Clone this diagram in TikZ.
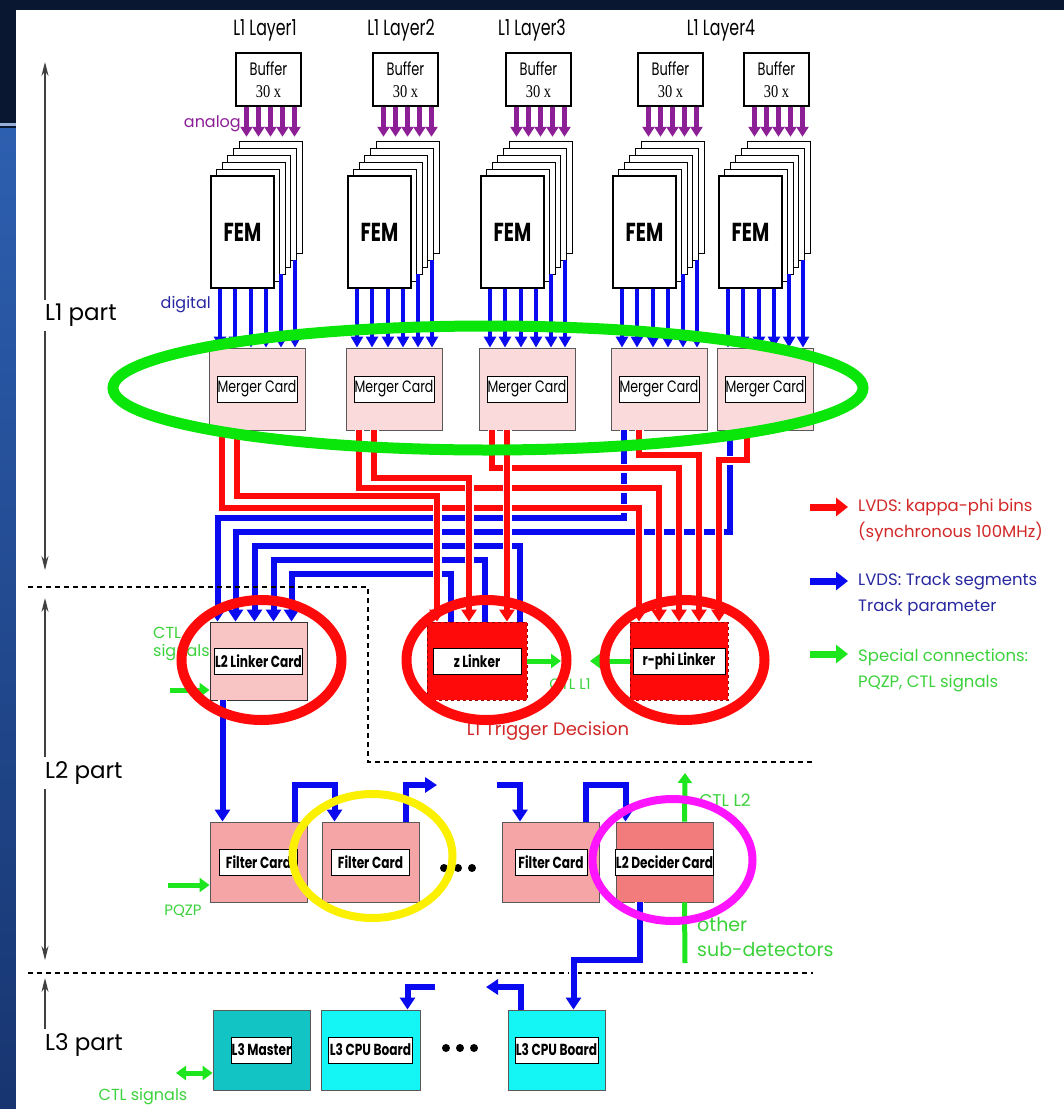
\documentclass[tikz,border=0pt]{standalone}
\usepackage{fontspec}
\setmainfont{Poppins}
\newfontfamily\narrowfont[FakeStretch=0.72]{Poppins}
\newfontfamily\tagfont[FakeStretch=0.76]{Poppins}
\newfontfamily\narrowserif[FakeStretch=0.8]{Liberation Serif}
\usetikzlibrary{arrows.meta}
\newcommand{\fsz}[2]{\fontsize{#1}{#2}\selectfont}
\definecolor{Navy}{HTML}{0A1730}
\definecolor{StripTop}{HTML}{2D5FB0}
\definecolor{StripBot}{HTML}{173570}
\definecolor{WireRed}{HTML}{FF0A0A}
\definecolor{WireBlue}{HTML}{0A0AF0}
\definecolor{SigGreen}{HTML}{1EE61E}
\definecolor{TextGreen}{HTML}{3CD23C}
\definecolor{Analog}{HTML}{8C1E96}
\definecolor{MergerPink}{HTML}{FADADA}
\definecolor{LinkerPink}{HTML}{F8C4C4}
\definecolor{FilterPink}{HTML}{F5A5A5}
\definecolor{DeciderPink}{HTML}{F27C7C}
\definecolor{MasterTeal}{HTML}{12C4C4}
\definecolor{CpuCyan}{HTML}{14F5F5}
\definecolor{LegRed}{HTML}{D22828}
\definecolor{LegBlue}{HTML}{2828A0}
\definecolor{RingGreen}{HTML}{0AE60A}
\definecolor{RingYellow}{HTML}{FAF000}
\definecolor{RingMagenta}{HTML}{FF14FF}
\tikzset{
  layer label/.style={font=\narrowfont\fsz{22}{24},inner sep=0pt},
  buffer box/.style={draw,line width=1.5pt,fill=white,minimum width=65pt,
    minimum height=53pt,inner sep=0pt,align=center,font=\narrowfont\fsz{18}{22}},
  fem box/.style={draw,line width=1.5pt,fill=white,minimum width=63pt,
    minimum height=112pt,inner sep=0pt,font=\narrowfont\bfseries\fsz{26}{28}},
  fem back/.style={draw,line width=0.9pt,fill=white},
  card/.style={draw=black!65,line width=0.9pt,minimum width=97pt,
    minimum height=80pt,inner sep=0pt},
  card tag/.style={draw,line width=1pt,fill=white,minimum height=26pt,
    inner sep=0pt,font=\tagfont\bfseries\fsz{16}{18}},
  analog arrow/.style={draw=Analog,line width=5pt,-{Triangle[width=12pt,length=10pt]}},
  digital arrow/.style={draw=WireBlue,line width=4.5pt,-{Triangle[width=12pt,length=11pt]}},
  wire/.style={line width=6pt,preaction={draw=white,line width=9pt},
    -{Triangle[width=15pt,length=12pt]}},
  red wire/.style={wire,draw=WireRed},
  blue wire/.style={wire,draw=WireBlue},
  green arrow/.style={draw=SigGreen,line width=5pt,-{Triangle[width=14pt,length=10pt]}},
  legend arrow/.style={line width=7pt,-{Triangle[width=18pt,length=12pt]}},
  legend text/.style={font=\fsz{16.5}{26},align=left,inner sep=0pt,anchor=west},
  green text/.style={text=TextGreen,inner sep=0pt},
  part text/.style={font=\fsz{23}{24},inner sep=4pt,anchor=west},
  part arrow/.style={draw=black!75,line width=1.2pt,-{Stealth[width=7pt,length=14pt]}},
  section line/.style={draw=black,line width=1.6pt,dash pattern=on 5pt off 4pt},
  ring/.style={line width=10pt}
}
\begin{document}
\begin{tikzpicture}[x=1pt,y=-1pt]
\useasboundingbox (0,0) rectangle (1064,1109);
% background
\fill[Navy] (0,0) rectangle (1064,1109);
\shade[top color=StripTop,bottom color=StripBot] (0,128) rectangle (16,1109);
\fill[StripTop!50!white] (0,123) rectangle (16,126);
\fill[white] (16,10) rectangle (1064,1109);

% L1 layers
\node[layer label] (lay1) at (265,30) {L1 Layer1};
\node[layer label] (lay2) at (401,30) {L1 Layer2};
\node[layer label] (lay3) at (532,30) {L1 Layer3};
\node[layer label] (lay4) at (721,30) {L1 Layer4};

\foreach \i/\x in {1/211,2/348,3/481,4/613,5/719}{
  \foreach \k in {5,...,1}
    \draw[fem back] (\x+5.6*\k,176-7*\k) rectangle ++(63,112);
  \node[fem box] (fem\i) at (\x+31.5,232) {FEM};
  \node[buffer box] (buf\i) at (\x+57.5,79.5) {Buffer\\{\narrowserif 30 x}};
  \node[card,fill=MergerPink,minimum width=96pt,minimum height=82pt] (m\i) at (\x+46,389) {};
  \node[card tag,minimum width=80pt,font=\tagfont\fsz{16.5}{18}] (mt\i) at (m\i) {Merger Card};
  \foreach \a in {-22,-10,2,14,26}
    \draw[analog arrow] ([xshift=\a]buf\i.south) -- ++(0,30);
  \foreach \d in {-22.5,-7.5,8.5,23.5}
    \draw[digital arrow] ([xshift=\d]fem\i.south) -- ([xshift=\d]fem\i.south |- m\i.north);
  \coordinate (bka\i) at (\x+70,274);
  \coordinate (bkb\i) at (\x+84,260);
  \draw[digital arrow] (bka\i) -- (bka\i |- m\i.north);
  \draw[digital arrow] (bkb\i) -- (bkb\i |- m\i.north);
}
\node[text=Analog,font=\fsz{16}{16},inner sep=0pt,anchor=east] (analog) at (241,124) {analog};
\node[text=LegBlue,font=\fsz{16}{16},inner sep=0pt,anchor=east] (digital) at (211,305) {digital};

% L2 linkers
\node[card,fill=LinkerPink,draw=black!80,minimum height=78pt] (l2link) at (258.5,661) {};
\node[card tag,minimum width=88pt] (l2linkt) at (l2link) {L2 Linker Card};
\node[card,fill=WireRed,draw=red!60!black,dashed,minimum width=100pt,minimum height=78pt] (zlink) at (477,661) {};
\node[card tag,minimum width=88pt] (zlinkt) at (zlink) {z Linker};
\node[card,fill=WireRed,draw=red!60!black,dashed,minimum width=98pt,minimum height=78pt] (rphi) at (679,661) {};
\node[card tag,minimum width=92pt] (rphit) at (rphi) {r-phi Linker};

% blue links to the L2 linker card
\draw[blue wire] ([xshift=-35pt]m4.south) -- ++(0,88) -| ([xshift=-41pt]l2link.north);
\draw[blue wire] ([xshift=-35pt]m5.south) -- ++(0,102) -| ([xshift=-23pt]l2link.north);
\draw[blue wire] ([xshift=43pt]zlink.north) -- ++(0,-76) -| ([xshift=-4pt]l2link.north);
\draw[blue wire] ([xshift=8pt]zlink.north) -- ++(0,-62) -| ([xshift=15pt]l2link.north);
\draw[blue wire] ([xshift=-26pt]zlink.north) -- ++(0,-48) -| ([xshift=33pt]l2link.north);
% red kappa-phi bins
\draw[red wire] ([xshift=-35pt]m1.south) -- ++(0,78) -| ([xshift=-40pt]rphi.north);
\draw[red wire] ([xshift=-20pt]m1.south) -- ++(0,66) -| ([xshift=-40pt]zlink.north);
\draw[red wire] ([xshift=-35pt]m2.south) -- ++(0,58) -| ([xshift=-20pt]rphi.north);
\draw[red wire] ([xshift=-20pt]m2.south) -- ++(0,48) -| ([xshift=-8pt]zlink.north);
\draw[red wire] ([xshift=-35pt]m3.south) -- ++(0,38) -| (rphi.north);
\draw[red wire] ([xshift=-20pt]m3.south) -- ([xshift=30pt]zlink.north);
\draw[red wire] ([xshift=-20pt]m4.south) -- ++(0,25) -| ([xshift=20pt]rphi.north);
\draw[red wire] ([xshift=-18pt]m5.south) -- ++(0,30) -| ([xshift=40pt]rphi.north);

% CTL signals into the linkers
\node[green text,font=\fsz{16}{18},align=left,anchor=west] (ctlsig) at (153,644) {CTL\\signals};
\coordinate (ctlin) at (170,690);
\draw[green arrow] (ctlin) -- ([yshift=-29pt]l2link.west);
\coordinate (ctlz) at (561,661);
\coordinate (ctlr) at (590,661);
\draw[green arrow] (zlink.east) -- (ctlz);
\draw[green arrow] (rphi.west) -- (ctlr);
\node[green text,font=\fsz{15}{16}] (ctll1) at (570,684) {CTL L1};
\node[text=LegRed,font=\fsz{18}{18},inner sep=0pt] (trigger) at (548,731) {L1 Trigger Decision};

% section borders
\draw[section line] (28,587) -- (368,587) -- (368,762) -- (813,762);
\draw[section line] (28,973) -- (813,973);

% L2 filter farm
\node[card,fill=FilterPink] (f1) at (258.5,862) {};
\node[card tag,minimum width=78pt] (f1t) at (f1) {Filter Card};
\node[card,fill=FilterPink] (f2) at (370.5,862) {};
\node[card tag,minimum width=78pt] (f2t) at (f2) {Filter Card};
\node[card,fill=FilterPink] (f3) at (551,862) {};
\node[card tag,minimum width=72pt] (f3t) at (f3) {Filter Card};
\node[card,fill=DeciderPink] (dec) at (664.5,862) {};
\node[card tag,minimum width=97pt] (dect) at (dec) {L2 Decider Card};
\fill (444,868) circle (4) (458,868) circle (4) (472,868) circle (4);

\coordinate (fout) at (437,785);
\coordinate (fin) at (497,785);
\draw[blue wire] ([xshift=-36pt]l2link.south) -- ([xshift=-36pt]f1.north);
\draw[blue wire] ([xshift=36pt]f1.north) -- ++(0,-37) -| ([xshift=-36pt]f2.north);
\draw[blue wire] ([xshift=35pt]f2.north) |- (fout);
\draw[blue wire] (fin) -| ([xshift=-31pt]f3.north);
\draw[blue wire] ([xshift=35pt]f3.north) -- ++(0,-37) -| ([xshift=-39pt]dec.north);

\coordinate (pqzpin) at (168,885);
\draw[green arrow] (pqzpin) -- ([yshift=-23pt]f1.west);
\node[green text,font=\fsz{15}{16}] (pqzp) at (183,911) {PQZP};
\coordinate (ctlout) at (685,773);
\draw[green arrow] ([xshift=20pt]dec.north) -- (ctlout);
\node[green text,font=\fsz{17}{18}] (ctll2) at (725,800) {CTL L2};
\coordinate (subin) at (685,963);
\draw[draw=SigGreen,line width=5pt] (subin) -- ([xshift=20pt]dec.south);
\node[green text,font=\fsz{19}{25},align=left,anchor=west] (subdet) at (697,937) {other\\sub-detectors};

% L3 farm
\node[card,fill=MasterTeal] (master) at (261.5,1050) {};
\node[card tag,minimum width=60pt] (mastert) at (master) {L3 Master};
\node[card,fill=CpuCyan,minimum width=99pt] (cpu1) at (370.5,1050) {};
\node[card tag,minimum width=84pt] (cpu1t) at (cpu1) {L3 CPU Board};
\node[card,fill=CpuCyan] (cpu2) at (556.5,1050) {};
\node[card tag,minimum width=83pt] (cpu2t) at (cpu2) {L3 CPU Board};
\fill (446,1048) circle (4) (460,1048) circle (4) (474,1048) circle (4);

\coordinate (cpuout) at (486,987);
\coordinate (cpuin) at (435,987);
\draw[blue wire] ([xshift=-25pt]dec.south) -- ++(0,58) -| ([xshift=17pt]cpu2.north);
\draw[blue wire] ([xshift=-36pt]cpu2.north) |- (cpuout);
\draw[blue wire] (cpuin) -| ([xshift=37pt]cpu1.north);

\coordinate (ctl3) at (176,1073);
\draw[green arrow,{Triangle[width=14pt,length=10pt]}-{Triangle[width=14pt,length=10pt]}] (ctl3) -- ([yshift=-23pt]master.west);
\node[green text,font=\fsz{16}{16}] (ctlsig3) at (143,1097) {CTL signals};

% legend
\coordinate (kred) at (810,507);
\coordinate (kblue) at (810,581);
\coordinate (kgreen) at (810,654);
\draw[legend arrow,draw=WireRed] (kred) -- ++(38,0);
\draw[legend arrow,draw=WireBlue] (kblue) -- ++(38,0);
\draw[legend arrow,draw=SigGreen] (kgreen) -- ++(38,0);
\node[legend text,text=LegRed] (legred) at (858,520) {LVDS: kappa-phi bins\\(synchronous 100MHz)};
\node[legend text,text=LegBlue] (legblue) at (858,595) {LVDS: Track segments\\Track parameter};
\node[legend text,text=TextGreen] (leggreen) at (858,670) {Special connections:\\PQZP, CTL signals};

% trigger levels
\node[part text] (l1part) at (41,315) {L1 part};
\node[part text] (l2part) at (41,773) {L2 part};
\node[part text] (l3part) at (41,1045) {L3 part};
\coordinate (l1top) at (45,62);
\coordinate (l1bot) at (45,570);
\coordinate (l2top) at (45,598);
\coordinate (l2bot) at (45,960);
\coordinate (l3top) at (45,978);
\draw[part arrow] (l1part.north -| l1top) -- (l1top);
\draw[part arrow] (l1part.south -| l1bot) -- (l1bot);
\draw[part arrow] (l2part.north -| l2top) -- (l2top);
\draw[part arrow] (l2part.south -| l2bot) -- (l2bot);
\draw[part arrow] (l3part.north -| l3top) -- (l3top);

% highlight rings
\draw[ring,draw=RingGreen,line width=11pt] (488,388) ellipse [x radius=375,y radius=62];
\draw[ring,draw=WireRed] (261.5,660) ellipse [x radius=80,y radius=60];
\draw[ring,draw=WireRed] (486.5,660) ellipse [x radius=80,y radius=60];
\draw[ring,draw=WireRed] (684.5,660) ellipse [x radius=80,y radius=60];
\draw[ring,draw=RingYellow,line width=8pt] (372.5,856) ellipse [x radius=80,y radius=62];
\draw[ring,draw=RingMagenta,line width=8pt] (672.5,860) ellipse [x radius=80,y radius=61];
\end{tikzpicture}
\end{document}
